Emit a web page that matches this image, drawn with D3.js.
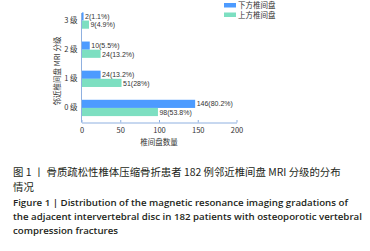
<!DOCTYPE html>
<html><head><meta charset="utf-8">
<script src="https://cdn.jsdelivr.net/npm/d3@7"></script>
<style>
body{margin:0;background:#fff;}
svg{display:block;}
</style></head>
<body>
<svg id="c" width="370" height="251"></svg>
<script>
const categories = ["0 级", "1 级", "2 级", "3 级"];
const seriesNames = ["下方椎间盘", "上方椎间盘"];
const lowerValues = [146, 24, 10, 2];
const lowerLabels = ["146(80.2%)", "24(13.2%)", "10(5.5%)", "2(1.1%)"];
const upperValues = [98, 51, 24, 9];
const upperLabels = ["98(53.8%)", "51(28%)", "24(13.2%)", "9(4.9%)"];
const xTicks = [0, 50, 100, 150, 200];
const captionCN = ["图 1 丨 骨质疏松性椎体压缩骨折患者 182 例邻近椎间盘 MRI 分级的分布", "情况"];
const captionEN = ["Figure 1  |  Distribution of the magnetic resonance imaging gradations of", "the adjacent intervertebral disc in 182 patients with osteoporotic vertebral", "compression fractures"];

const colors = ["#4d9bff", "#7ddfc1"];
const axisColor = "#8fb0e0";
const cjk = "'Noto Sans CJK SC', 'Noto Sans', sans-serif";
const latin = "'Liberation Sans', Arial, sans-serif";
const svg = d3.select("#c");

const x = d3.scaleLinear().domain([0, 200]).range([81.5, 236.5]);
const y = d3.scaleBand().domain(categories.slice().reverse()).range([6, 122.5]).paddingInner(0.44).paddingOuter(0.22);
const sub = d3.scaleBand().domain([0, 1]).range([0, y.bandwidth()]);

// axes
const xAxis = svg.append("g").attr("transform", "translate(0,122.5)")
  .call(d3.axisBottom(x).tickValues(xTicks).tickSize(0).tickPadding(5));
xAxis.select(".domain").attr("stroke", axisColor);
xAxis.selectAll(".tick line").remove();
xAxis.selectAll(".tick").append("line").attr("y1", 0).attr("y2", -2.5).attr("stroke", axisColor);
xAxis.selectAll("text").attr("font-family", cjk).attr("font-size", 7.5).attr("fill", "#333");

const yAxis = svg.append("g").attr("transform", "translate(81.5,0)")
  .call(d3.axisLeft(y).tickSize(0).tickPadding(4));
yAxis.select(".domain").attr("stroke", axisColor).attr("d", "M0,13V122.5");
yAxis.selectAll("text").attr("font-family", cjk).attr("font-size", 7.5).attr("fill", "#333");

const seriesVals = [lowerValues, upperValues];
const seriesLabs = [lowerLabels, upperLabels];
seriesVals.forEach((vals, s) => {
  svg.append("g").selectAll("rect").data(vals).join("rect")
    .attr("x", x(0) + 0.5)
    .attr("y", (d, i) => y(categories[i]) + sub(s))
    .attr("width", d => x(d) - x(0))
    .attr("height", sub.bandwidth())
    .attr("fill", colors[s]);
  svg.append("g").selectAll("text").data(vals).join("text")
    .attr("x", d => x(d) + 2)
    .attr("y", (d, i) => y(categories[i]) + sub(s) + sub.bandwidth() / 2 + (s === 0 ? -0.3 : 0.3))
    .attr("dy", "0.35em")
    .attr("font-family", latin).attr("font-size", 7).attr("fill", "#333")
    .text((d, i) => seriesLabs[s][i]);
});

// axis titles
svg.append("text").attr("x", 159).attr("y", 142).attr("dy", "0.35em").attr("text-anchor", "middle")
  .attr("font-family", cjk).attr("font-size", 7.5).attr("fill", "#333").text("椎间盘数量");
svg.append("text").attr("transform", "translate(57,71) rotate(-90)").attr("dy", "0.35em").attr("text-anchor", "middle")
  .attr("font-family", cjk).attr("font-size", 7.5).attr("fill", "#333").text("邻近椎间盘 MRI 分级");

// legend
seriesNames.forEach((n, i) => {
  svg.append("rect").attr("x", 224).attr("y", 3 + i * 9.5).attr("width", 12).attr("height", 4.5).attr("fill", colors[i]);
  svg.append("text").attr("x", 238).attr("y", 5.5 + i * 9.5).attr("dy", "0.35em")
    .attr("font-family", cjk).attr("font-size", 7.5).attr("fill", "#333").text(n);
});

// captions
captionCN.forEach((t, i) => {
  svg.append("text").attr("x", 13).attr("y", 172 + i * 15).attr("dy", "0.35em")
    .attr("font-family", cjk).attr("font-size", 10.4).attr("fill", "#231f20").text(t);
});
captionEN.forEach((t, i) => {
  svg.append("text").attr("x", 13).attr("y", 203 + i * 14).attr("dy", "0.35em")
    .attr("font-family", "'Open Sans', 'Noto Sans', sans-serif").attr("font-weight", 600)
    .attr("font-size", 9.7).attr("fill", "#231f20").text(t);
});
</script>
</body></html>
